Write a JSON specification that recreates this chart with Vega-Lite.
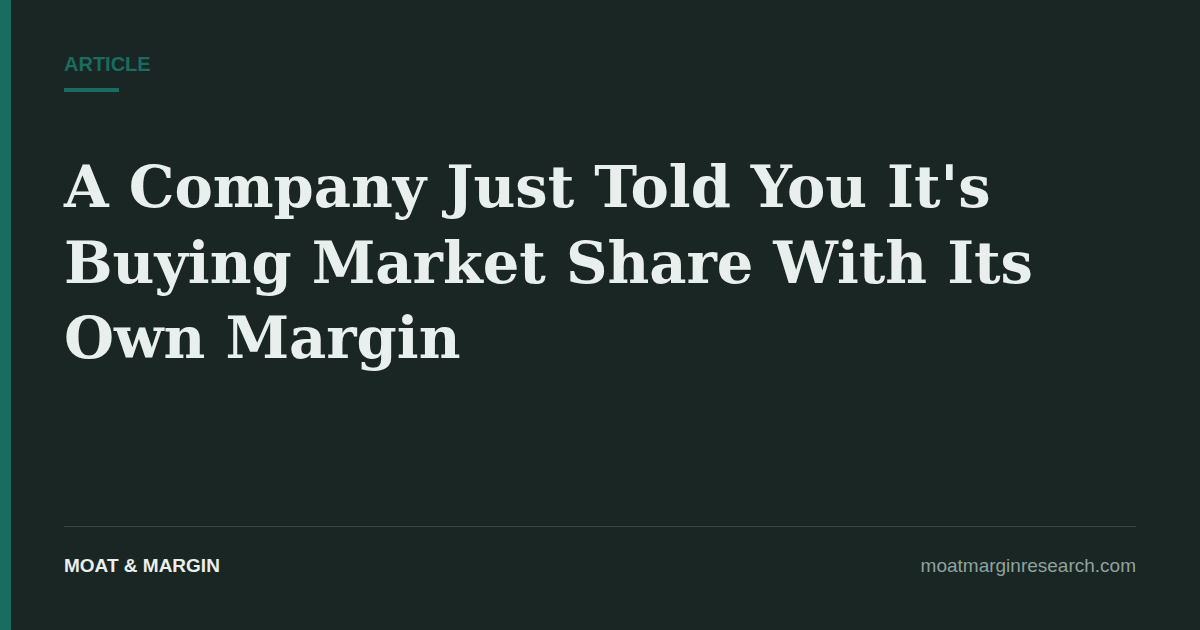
{
  "$schema": "https://vega.github.io/schema/vega-lite/v6.json",
  "description": "Article title card for Moat & Margin.",
  "width": 1200,
  "height": 630,
  "autosize": {"type": "fit", "contains": "padding"},
  "padding": 0,
  "background": "#1a2624",
  "data": {
    "values": [
      {"role": "kicker", "text": "ARTICLE"},
      {"role": "title", "text": "A Company Just Told You It's\nBuying Market Share With Its\nOwn Margin"},
      {"role": "brand", "text": "MOAT & MARGIN"},
      {"role": "site", "text": "moatmarginresearch.com"}
    ]
  },
  "layer": [
    {
      "mark": {"type": "rect", "color": "#1a6b60"},
      "encoding": {
        "x": {"datum": 0, "type": "quantitative", "scale": {"domain": [0, 1200], "nice": false, "zero": false}, "axis": null},
        "x2": {"datum": 11},
        "y": {"datum": 0, "type": "quantitative", "scale": {"domain": [0, 630], "nice": false, "zero": false, "reverse": true}, "axis": null},
        "y2": {"datum": 630}
      }
    },
    {
      "mark": {"type": "rect", "color": "#1a6b60"},
      "encoding": {
        "x": {"datum": 64, "type": "quantitative"},
        "x2": {"datum": 119},
        "y": {"datum": 88, "type": "quantitative"},
        "y2": {"datum": 92}
      }
    },
    {
      "mark": {"type": "rule", "color": "#34443f", "strokeWidth": 1},
      "encoding": {
        "x": {"datum": 64, "type": "quantitative"},
        "x2": {"datum": 1136},
        "y": {"datum": 526.5, "type": "quantitative"}
      }
    },
    {
      "transform": [{"filter": "datum.role == 'kicker'"}],
      "mark": {"type": "text", "align": "left", "baseline": "alphabetic", "font": "Liberation Sans", "fontWeight": "bold", "fontSize": 20, "color": "#1a6b60"},
      "encoding": {
        "x": {"datum": 64, "type": "quantitative"},
        "y": {"datum": 71, "type": "quantitative"},
        "text": {"field": "text"}
      }
    },
    {
      "transform": [{"filter": "datum.role == 'title'"}],
      "mark": {"type": "text", "align": "left", "baseline": "alphabetic", "font": "DejaVu Serif", "fontWeight": "bold", "fontSize": 57.5, "lineHeight": 75.5, "lineBreak": "\n", "color": "#e9efed"},
      "encoding": {
        "x": {"datum": 64, "type": "quantitative"},
        "y": {"datum": 207, "type": "quantitative"},
        "text": {"field": "text"}
      }
    },
    {
      "transform": [{"filter": "datum.role == 'brand'"}],
      "mark": {"type": "text", "align": "left", "baseline": "alphabetic", "font": "Liberation Sans", "fontWeight": "bold", "fontSize": 19, "color": "#e9efed"},
      "encoding": {
        "x": {"datum": 64, "type": "quantitative"},
        "y": {"datum": 572, "type": "quantitative"},
        "text": {"field": "text"}
      }
    },
    {
      "transform": [{"filter": "datum.role == 'site'"}],
      "mark": {"type": "text", "align": "right", "baseline": "alphabetic", "font": "Liberation Sans", "fontSize": 19, "color": "#8fa39e"},
      "encoding": {
        "x": {"datum": 1136, "type": "quantitative"},
        "y": {"datum": 572, "type": "quantitative"},
        "text": {"field": "text"}
      }
    }
  ],
  "config": {"view": {"stroke": null}}
}
